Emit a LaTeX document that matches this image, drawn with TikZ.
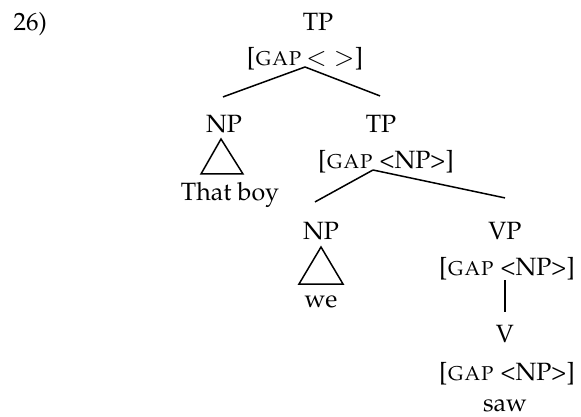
\documentclass[tikz,border=0pt]{standalone}
\usepackage[T1]{fontenc}
\usepackage{mathpazo}
\usepackage{tikz}
\newcommand{\gapf}[1]{[\textsc{gap}~#1]}

\begin{document}
\begin{tikzpicture}[x=0.5pt, y=-0.5pt,
  cat/.style={anchor=base, inner sep=0pt},
  feat/.style={anchor=base, inner sep=0pt},
  word/.style={anchor=base, inner sep=0pt},
  font=\fontsize{12.5pt}{15pt}\selectfont,
  line width=0.75pt]
\useasboundingbox (0,0) rectangle (581,416);
\node[anchor=base west, inner sep=0pt] (num) at (13,31) {26)};
\node[cat] (tp) at (318,31) {TP};
\node[feat] (tpf) at (305,66) {[\textsc{gap}\,$<$\;$>$]};
\node[cat] (np1) at (224,133) {NP};
\node[word] (boy) at (230,200) {That boy};
\node[cat] (tp2) at (381,133) {TP};
\node[feat] (tp2f) at (386,169) {\gapf{<NP>}};
\node[cat] (np2) at (321,239) {NP};
\node[word] (we) at (321,307) {we};
\node[cat] (vp) at (505,239) {VP};
\node[feat] (vpf) at (507,275) {\gapf{<NP>}};
\node[cat] (v) at (505,342) {V};
\node[feat] (vf) at (507,380) {\gapf{<NP>}};
\node[word] (saw) at (505,411) {saw};
\draw ([shift={(0,1)}]tpf.base) -- ([shift={(-1,-18)}]np1.north);
\draw ([shift={(0,1)}]tpf.base) -- ([shift={(-1,-19)}]tp2.north);
\draw ([shift={(-13,1)}]tp2f.base) -- ([shift={(-6,-19)}]np2.north);
\draw ([shift={(-13,1)}]tp2f.base) -- ([shift={(0,-23)}]vp.north);
\draw ([shift={(-2,5)}]vpf.base) -- ([shift={(0,-12)}]v.north);
% triangles
\draw ([shift={(-3,6)}]np1.base) -- ++(-20,35) -- ++(42,0) -- cycle;
\draw ([shift={(0,8)}]np2.base) -- ++(-22,37) -- ++(44,0) -- cycle;
\end{tikzpicture}
\end{document}
